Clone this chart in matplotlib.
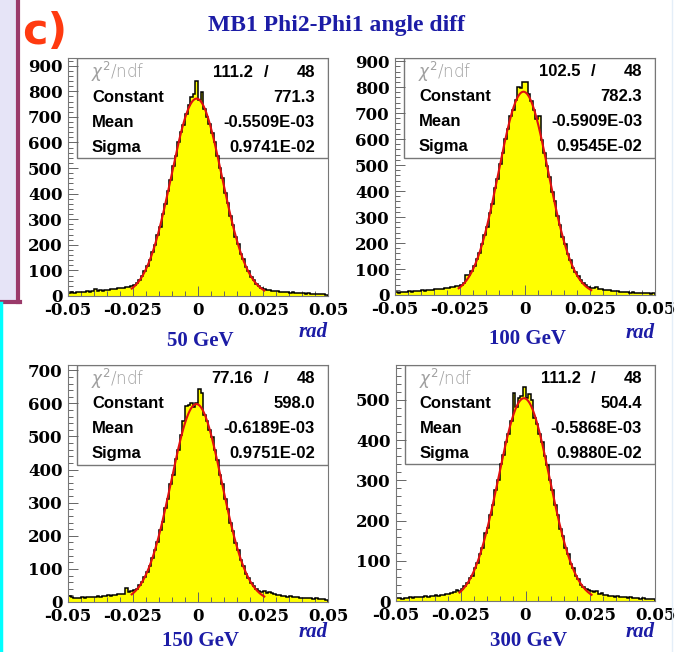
import numpy as np
import matplotlib
matplotlib.use("Agg")
import matplotlib.pyplot as plt
from matplotlib.patches import Rectangle
from matplotlib.ticker import MultipleLocator, FixedLocator

plt.rcParams['axes.unicode_minus'] = False
plt.rcParams['mathtext.fontset'] = 'dejavusans'

# ---- data ----
energies = ['50 GeV', '100 GeV', '150 GeV', '300 GeV']

counts_50 = [12, 14, 13, 15, 16, 15, 17, 18, 17, 19, 26, 20, 22, 21, 24, 23, 26, 28, 27, 32,
             31, 33, 35, 36, 40, 44, 52,
             64, 80, 97, 118, 142, 170, 198, 238, 270, 320, 358, 410, 452, 508, 548, 600,
             640, 668, 712, 745, 778, 790, 840,
             765, 798, 730, 700, 672, 635, 600, 548, 500, 460, 402, 365, 312, 278, 232, 205,
             165, 143, 112, 96, 74, 62, 48, 40, 33, 28, 24,
             22, 20, 21, 18, 17, 16, 17, 14, 13, 14, 12, 11, 12, 10, 9, 10, 8, 8, 9, 7, 6, 7, 5]
counts_100 = [10, 9, 12, 11, 13, 14, 13, 16, 15, 17, 18, 17, 19, 21, 20, 23, 22, 25, 24, 27,
              28, 30, 29, 33, 36, 40, 46,
              78, 76, 92, 112, 138, 162, 195, 232, 262, 316, 350, 410, 448, 505, 545, 602,
              640, 690, 712, 752, 800, 795, 820,
              818, 772, 748, 712, 678, 690, 598, 545, 498, 455, 398, 360, 305, 270, 222, 196,
              158, 136, 105, 88, 72, 58, 46, 38, 32, 28, 26,
              30, 24, 22, 20, 18, 19, 16, 15, 14, 12, 13, 11, 10, 9, 10, 8, 7, 8, 6, 7, 6, 5, 6]
counts_150 = [18, 14, 12, 13, 12, 14, 12, 15, 14, 16, 15, 17, 16, 19, 18, 20, 19, 22, 21, 24,
              25, 24, 42, 30, 34, 36, 40,
              50, 60, 76, 92, 110, 133, 158, 180, 218, 242, 285, 312, 358, 385, 432, 458,
              505, 548, 592, 596, 600, 590, 602,
              645, 632, 565, 548, 520, 498, 458, 430, 385, 355, 312, 282, 240, 215, 178, 158,
              128, 110, 86, 74, 58, 48, 40, 34, 30, 33, 28,
              30, 26, 24, 20, 22, 18, 19, 16, 17, 15, 14, 15, 13, 12, 13, 11, 12, 10, 11, 9, 10, 8, 7]
counts_300 = [8, 7, 6, 8, 7, 9, 8, 10, 9, 11, 10, 12, 11, 13, 12, 14, 13, 16, 15, 18,
              17, 20, 22, 28, 24, 30, 38,
              45, 56, 62, 82, 95, 118, 132, 168, 182, 215, 240, 275, 300, 340, 362, 395,
              415, 448, 518, 482, 505, 510, 532,
              505, 515, 500, 455, 440, 415, 395, 360, 338, 300, 275, 238, 215, 180, 162, 132,
              118, 92, 82, 62, 55, 40, 36, 30, 28, 26, 22,
              24, 18, 20, 15, 16, 13, 12, 11, 12, 10, 9, 10, 8, 9, 7, 8, 7, 6, 7, 6, 5, 6, 4]

chi2 = [111.2, 102.5, 77.16, 111.2]
ndf = [48, 48, 48, 48]
fit_constant = [771.3, 782.3, 598.0, 504.4]
fit_mean = [-0.5509e-3, -0.5909e-3, -0.6189e-3, -0.5868e-3]
fit_sigma = [0.9741e-2, 0.9545e-2, 0.9751e-2, 0.9880e-2]

xticks = [-0.05, -0.025, 0, 0.025, 0.05]
xtick_labels = ['-0.05', '-0.025', '0', '0.025', '0.05']

# ---- layout (pixels) ----
W, H = 690, 652
fig = plt.figure(figsize=(W / 100, H / 100), dpi=100)


def fx(px):
    return px / W


def fy(py):
    return 1 - py / H


# left slide decoration
fig.patches.append(Rectangle((0, fy(302)), fx(18), 1 - fy(302), transform=fig.transFigure,
                             facecolor='#e6e4f7', edgecolor='none', zorder=0))
fig.add_artist(plt.Line2D([fx(18), fx(18)], [fy(0), fy(302)], color='#9a3a6a', lw=3,
                          transform=fig.transFigure))
fig.add_artist(plt.Line2D([0, fx(19.5)], [fy(302), fy(302)], color='#9a3a6a', lw=3,
                          transform=fig.transFigure))
fig.add_artist(plt.Line2D([fx(1.2), fx(1.2)], [fy(303), 0], color='#00ffff', lw=2.5,
                          transform=fig.transFigure))
fig.add_artist(plt.Line2D([fx(672), fx(672)], [0, 1], color='#e4eef8', lw=1,
                          transform=fig.transFigure))

fig.text(fx(22), fy(44), 'c)', color='#ff3a10', fontsize=31, fontweight='bold',
         family='DejaVu Sans', ha='left', va='baseline')
fig.text(fx(337), fy(25), 'MB1 Phi2-Phi1 angle diff', color='#1c1ca6', fontsize=17,
         fontweight='bold', family='Liberation Serif', ha='center', va='center')

# axes boxes: left, top, right, bottom
boxes = [(68, 58, 328, 296), (395, 58, 655, 295), (68, 365, 328, 602), (396, 365, 655, 601)]
ytops = [930, 912, 716, 587]
label_y = [341, 339, 641, 641]
rad_y = [332, 333, 632, 632]

all_counts = [counts_50, counts_100, counts_150, counts_300]
edges = np.linspace(-0.05, 0.05, 101)

for i in range(4):
    l, t, r, b = boxes[i]
    ax = fig.add_axes([fx(l), fy(b), fx(r - l), (b - t) / H])
    vals = np.array(all_counts[i])
    ax.stairs(vals, edges, fill=True, color='#ffff00', zorder=1)
    ax.stairs(vals, edges, color='black', lw=1.1, zorder=2)

    xf = np.linspace(-0.0255, 0.0255, 300)
    yf = fit_constant[i] * np.exp(-0.5 * ((xf - fit_mean[i]) / fit_sigma[i]) ** 2)
    ax.plot(xf, yf, color='#e01010', lw=1.5, zorder=3)

    ax.set_xlim(-0.05, 0.05)
    ax.set_ylim(0, ytops[i])
    ax.xaxis.set_major_locator(FixedLocator(xticks))
    ax.set_xticklabels(xtick_labels)
    ax.xaxis.set_minor_locator(MultipleLocator(0.005))
    ax.yaxis.set_major_locator(MultipleLocator(100))
    ax.yaxis.set_minor_locator(MultipleLocator(20))
    ax.tick_params(which='both', direction='in', color='#666666', width=0.7,
                   top=False, right=False)
    ax.tick_params(which='major', length=7, pad=4)
    ax.tick_params(which='minor', length=3.5)
    for lab in ax.get_xticklabels() + ax.get_yticklabels():
        lab.set_family('DejaVu Serif')
        lab.set_fontweight('bold')
        lab.set_fontsize(12)
    for sp in ax.spines.values():
        sp.set_color('#777777')
        sp.set_linewidth(0.8)

    # stats box (histogram is drawn over its border)
    ax.add_patch(Rectangle((0.035, 0.58), 0.965, 0.42, transform=ax.transAxes,
                           facecolor='none', edgecolor='#777777', lw=1.0, zorder=0.5))
    rows = [0.941, 0.836, 0.731, 0.626]
    ax.text(0.088, rows[0], r'$\chi^2$/ndf', transform=ax.transAxes, color='#a0a0a0',
            fontsize=12, family='DejaVu Sans', fontweight='light', ha='left', va='center',
            zorder=5)
    ax.text(0.712, rows[0], f'{chi2[i]:.4g}', transform=ax.transAxes, ha='right',
            va='center', fontsize=12, fontweight='bold', family='Liberation Sans', zorder=5)
    ax.text(0.762, rows[0], '/', transform=ax.transAxes, ha='center', va='center',
            fontsize=12, fontweight='bold', family='Liberation Sans', zorder=5)
    ax.text(0.95, rows[0], str(ndf[i]), transform=ax.transAxes, ha='right', va='center',
            fontsize=12, fontweight='bold', family='Liberation Sans', zorder=5)
    names = ['Constant', 'Mean', 'Sigma']
    values = [f'{fit_constant[i]:.1f}', f'{fit_mean[i] * 1e3:.4f}E-03',
              f'{fit_sigma[i] * 1e2:.4f}E-02']
    for k in range(3):
        ax.text(0.092, rows[k + 1], names[k], transform=ax.transAxes, ha='left',
                va='center', fontsize=12, fontweight='bold', family='Liberation Sans',
                zorder=5)
        ax.text(0.95, rows[k + 1], values[k], transform=ax.transAxes, ha='right',
                va='center', fontsize=12, fontweight='bold', family='Liberation Sans',
                zorder=5)

    # energy and unit labels
    fig.text(fx(l + 0.51 * (r - l)), fy(label_y[i]), energies[i], color='#1c1ca6',
             fontsize=15, fontweight='bold', family='Liberation Serif', ha='center',
             va='center')
    fig.text(fx(r), fy(rad_y[i]), 'rad', color='#1c1ca6', fontsize=15,
             fontweight='bold', style='italic', family='Liberation Serif', ha='right',
             va='center')

fig.savefig('out.png', dpi=100)
